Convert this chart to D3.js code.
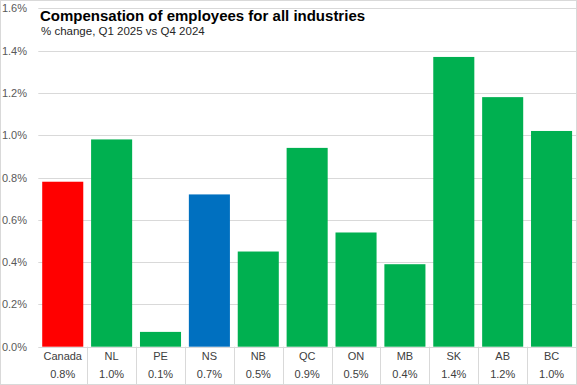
<!DOCTYPE html>
<html>
<head>
<meta charset="utf-8">
<script src="https://cdn.jsdelivr.net/npm/d3@7"></script>
<style>
  body { margin: 0; background: #fff; }
  svg { display: block; font-family: "Liberation Sans", Arial, sans-serif; }
</style>
</head>
<body>
<svg id="chart" width="577" height="385"></svg>
<script>
(function() {
    'use strict';

    // data
    var regions = ["Canada", "NL", "PE", "NS", "NB", "QC", "ON", "MB", "SK", "AB", "BC"];
    var changes = [0.78, 0.98, 0.07, 0.72, 0.45, 0.94, 0.54, 0.39, 1.37, 1.18, 1.02];
    var yTicks = [0, 0.2, 0.4, 0.6, 0.8, 1.0, 1.2, 1.4, 1.6];

    var title = "Compensation of employees for all industries";
    var subtitle = "% change, Q1 2025 vs Q4 2024";

    var W = 577, H = 385;
    var plot = { left: 38.3, right: 576, top: 8.3, bottom: 346.7 };

    var colorFor = function(name) {
        if (name === "Canada") return "#FF0000";
        if (name === "NS") return "#0070C0";
        return "#00B050";
    };

    var svg = d3.select("#chart");

    var x = d3.scaleBand()
        .domain(regions)
        .range([plot.left, plot.right])
        .paddingInner(0.16)
        .paddingOuter(0.08);

    var y = d3.scaleLinear()
        .domain([0, 1.6])
        .range([plot.bottom, plot.top]);

    var pct = function(v) { return d3.format(".1f")(v) + "%"; };

    // gridlines
    svg.append("g").selectAll("line")
        .data(yTicks)
        .enter().append("line")
        .attr("x1", plot.left).attr("x2", plot.right)
        .attr("y1", function(d) { return Math.round(y(d)) + 0.5; })
        .attr("y2", function(d) { return Math.round(y(d)) + 0.5; })
        .attr("stroke", "#D9D9D9")
        .attr("stroke-width", 1);

    // y tick labels
    svg.append("g").selectAll("text")
        .data(yTicks)
        .enter().append("text")
        .attr("x", 27)
        .attr("y", function(d) { return y(d) + 4; })
        .attr("text-anchor", "end")
        .attr("font-size", "11px")
        .attr("fill", "#595959")
        .text(pct);

    // bars
    svg.append("g").selectAll("rect")
        .data(regions)
        .enter().append("rect")
        .attr("x", function(d) { return x(d); })
        .attr("width", x.bandwidth())
        .attr("y", function(d, i) { return y(changes[i]); })
        .attr("height", function(d, i) { return y(0) - y(changes[i]); })
        .attr("fill", colorFor);

    // data table under the bars
    var step = x.step();
    var edges = d3.range(1, regions.length).map(function(i) { return plot.left + i * step; });
    svg.append("g").selectAll("line")
        .data(edges)
        .enter().append("line")
        .attr("x1", function(d) { return Math.round(d) + 0.5; })
        .attr("x2", function(d) { return Math.round(d) + 0.5; })
        .attr("y1", plot.bottom)
        .attr("y2", H)
        .attr("stroke", "#D9D9D9");

    var table = svg.append("g")
        .attr("font-size", "11px")
        .attr("fill", "#404040")
        .attr("text-anchor", "middle");
    table.selectAll("text.cat")
        .data(regions)
        .enter().append("text")
        .attr("class", "cat")
        .attr("x", function(d) { return x(d) + x.bandwidth() / 2; })
        .attr("y", 360)
        .text(function(d) { return d; });
    table.selectAll("text.val")
        .data(changes)
        .enter().append("text")
        .attr("class", "val")
        .attr("x", function(d, i) { return x(regions[i]) + x.bandwidth() / 2; })
        .attr("y", 378)
        .text(function(d) { return pct(d); });

    // titles
    svg.append("text")
        .attr("x", 40).attr("y", 21)
        .attr("font-size", "15px")
        .attr("font-weight", "bold")
        .attr("fill", "#000")
        .text(title);
    svg.append("text")
        .attr("x", 41).attr("y", 35)
        .attr("font-size", "11.5px")
        .attr("fill", "#262626")
        .text(subtitle);

    // chart border
    svg.append("rect")
        .attr("x", 0.5).attr("y", 0.5)
        .attr("width", W - 1).attr("height", H - 1)
        .attr("fill", "none")
        .attr("stroke", "#D9D9D9");
})();
</script>
</body>
</html>
